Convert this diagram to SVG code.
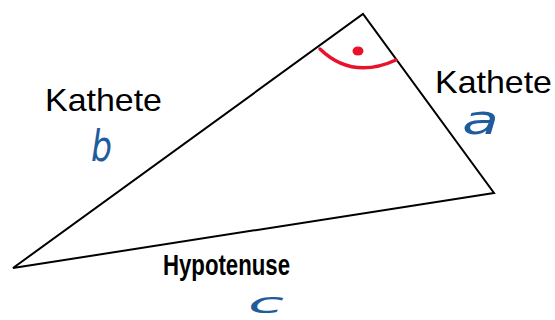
<svg xmlns="http://www.w3.org/2000/svg" width="555" height="320" viewBox="0 0 555 320">
<style>
.edge{fill:none;stroke:#000;stroke-width:2;stroke-linejoin:miter}
.lbl{font-family:"Liberation Sans",Arial,sans-serif;font-size:32px;fill:#000}
.hyp{font-family:"Liberation Sans",Arial,sans-serif;font-size:30px;font-weight:bold;fill:#000}
.ink{font-family:"DejaVu Sans","Liberation Sans",sans-serif;font-style:italic;fill:#1f5c9c}
.red{fill:none;stroke:#e8132b;stroke-width:3.5;stroke-linecap:round}
</style>
<rect width="555" height="320" fill="#fff"/>
<g id="connectors">
<path class="edge" d="M13 268 L363 14 L494 193 Z"/>
</g>
<g id="right-angle">
<path class="red" d="M320 49 Q352 80 396 60"/>
<ellipse cx="358" cy="51" rx="5.5" ry="4.5" fill="#e8132b"/>
</g>
<g id="kathete-b">
<text class="lbl" x="45" y="111" textLength="117" lengthAdjust="spacingAndGlyphs">Kathete</text>
<text class="ink" x="91" y="161" font-size="42" textLength="21" lengthAdjust="spacingAndGlyphs">b</text>
</g>
<g id="kathete-a">
<text class="lbl" x="435" y="93" textLength="117" lengthAdjust="spacingAndGlyphs">Kathete</text>
<text class="ink" x="462" y="134" font-size="40" textLength="37" lengthAdjust="spacingAndGlyphs">a</text>
</g>
<g id="hypotenuse">
<text class="hyp" x="163" y="275" textLength="127" lengthAdjust="spacingAndGlyphs">Hypotenuse</text>
<text class="ink" x="248" y="313" font-size="29" textLength="36" lengthAdjust="spacingAndGlyphs">c</text>
</g>
</svg>
